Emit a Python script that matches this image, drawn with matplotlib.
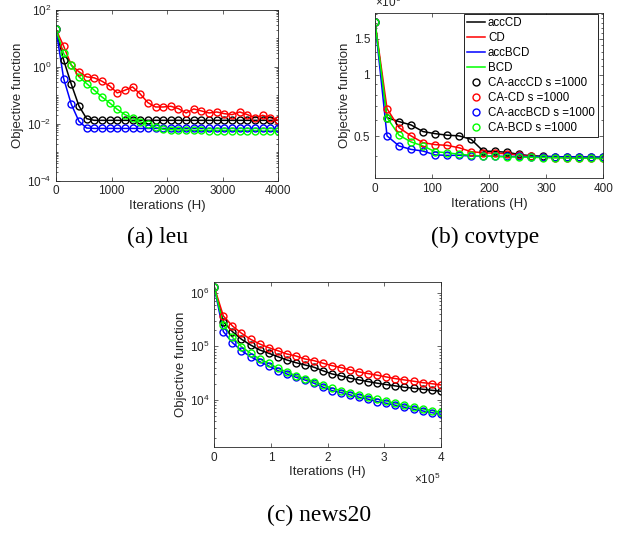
import numpy as np
import matplotlib
matplotlib.use("Agg")
import matplotlib.pyplot as plt
from matplotlib.ticker import FixedLocator, FuncFormatter, LogLocator, NullFormatter, MultipleLocator

# ---- data ----
methods = ["accCD", "CD", "accBCD", "BCD"]
ca_labels = ["CA-accCD s =1000", "CA-CD s =1000", "CA-accBCD s =1000", "CA-BCD s =1000"]
colors = ["#000000", "#ff0000", "#0000ff", "#00ff00"]

# (a) leu, 30 points over 0..4000
leu_x = np.linspace(0, 4000, 30)
leu_accCD = [20.8, 1.72, 0.244, 0.042, 0.015, 0.0131, 0.0131, 0.0131, 0.0131, 0.0131,
             0.0131, 0.0131, 0.0131, 0.0131, 0.0131, 0.0131, 0.0131, 0.0131, 0.0131, 0.0131,
             0.0131, 0.0131, 0.0131, 0.0131, 0.0131, 0.0131, 0.0131, 0.0131, 0.0131, 0.0131]
leu_CD = [20.8, 5.36, 1.15, 0.667, 0.444, 0.41, 0.312, 0.213, 0.121, 0.15,
          0.197, 0.111, 0.055, 0.0387, 0.0387, 0.041, 0.0338, 0.0238, 0.033, 0.028,
          0.0238, 0.0258, 0.0225, 0.0208, 0.0258, 0.0208, 0.0163, 0.0197, 0.0163, 0.0131]
leu_accBCD = [20.8, 0.387, 0.048, 0.0121, 0.0070, 0.0068, 0.0068, 0.0068, 0.0068, 0.0068,
              0.0068, 0.0068, 0.0068, 0.0068, 0.0068, 0.0068, 0.0068, 0.0068, 0.0068, 0.0068,
              0.0068, 0.0068, 0.0068, 0.0068, 0.0068, 0.0068, 0.0068, 0.0068, 0.0068, 0.0068]
leu_BCD = [20.8, 2.96, 1.15, 0.444, 0.258, 0.15, 0.087, 0.054, 0.032, 0.0208,
           0.0158, 0.0115, 0.0095, 0.0076, 0.0063, 0.0061, 0.0060, 0.0059, 0.0058, 0.0058,
           0.0057, 0.0057, 0.0057, 0.0056, 0.0056, 0.0056, 0.0056, 0.0055, 0.0055, 0.0055]

# (b) covtype, 20 points over 0..400 (values in 1e6)
cov_x = np.linspace(0, 400, 20)
cov_accCD = [1.82, 0.616, 0.589, 0.567, 0.526, 0.514, 0.505, 0.501, 0.482, 0.422,
             0.420, 0.416, 0.406, 0.400, 0.398, 0.396, 0.395, 0.394, 0.394, 0.393]
cov_CD = [1.82, 0.682, 0.550, 0.501, 0.464, 0.454, 0.450, 0.438, 0.419, 0.414,
          0.412, 0.409, 0.403, 0.397, 0.394, 0.392, 0.391, 0.390, 0.389, 0.388]
cov_accBCD = [1.82, 0.501, 0.447, 0.430, 0.422, 0.404, 0.402, 0.402, 0.399, 0.399,
              0.398, 0.397, 0.397, 0.396, 0.396, 0.395, 0.395, 0.395, 0.394, 0.394]
cov_BCD = [1.82, 0.616, 0.505, 0.468, 0.447, 0.419, 0.414, 0.407, 0.402, 0.399,
           0.397, 0.395, 0.394, 0.393, 0.392, 0.391, 0.390, 0.389, 0.389, 0.388]

# (c) news20, 26 points over 0..4e5, given as log10 of objective
news_x = np.linspace(0, 4e5, 26)
news_accCD = [6.1, 5.46, 5.274, 5.132, 5.026, 4.933, 4.872, 4.808, 4.747, 4.696,
              4.654, 4.611, 4.545, 4.486, 4.449, 4.406, 4.374, 4.343, 4.313, 4.287,
              4.263, 4.238, 4.220, 4.201, 4.182, 4.164]
news_CD = [6.1, 5.566, 5.38, 5.244, 5.132, 5.045, 4.976, 4.92, 4.858, 4.821,
           4.765, 4.734, 4.685, 4.641, 4.603, 4.561, 4.523, 4.492, 4.462, 4.430,
           4.399, 4.374, 4.350, 4.324, 4.305, 4.281]
news_accBCD = [6.1, 5.274, 5.069, 4.92, 4.808, 4.715, 4.635, 4.548, 4.486, 4.425,
               4.374, 4.313, 4.24, 4.175, 4.138, 4.095, 4.052, 4.015, 3.970, 3.940,
               3.903, 3.866, 3.829, 3.797, 3.765, 3.736]
news_BCD = [6.1, 5.398, 5.169, 4.994, 4.872, 4.765, 4.685, 4.592, 4.523, 4.454,
            4.399, 4.343, 4.28, 4.22, 4.175, 4.138, 4.095, 4.052, 4.015, 3.978,
            3.940, 3.903, 3.866, 3.834, 3.803, 3.773]

GRAY = "#262626"
plt.rcParams["font.family"] = ["Liberation Sans", "DejaVu Sans"]
plt.rcParams["mathtext.fontset"] = "custom"
plt.rcParams["mathtext.rm"] = "Liberation Sans"
plt.rcParams["mathtext.it"] = "Liberation Sans"


def style_axes(ax):
    for s in ax.spines.values():
        s.set_color(GRAY)
        s.set_linewidth(0.6)
    ax.tick_params(which="both", direction="in", top=True, right=True,
                   colors=GRAY, labelsize=8.5, width=0.5)
    ax.tick_params(which="major", length=3)
    ax.tick_params(which="minor", length=1.6)
    ax.set_xlabel("Iterations (H)", fontsize=9.5, color=GRAY, labelpad=2)
    ax.set_ylabel("Objective function", fontsize=9.5, color=GRAY, labelpad=2)


def draw(ax, x, series):
    for ys, c, lab in zip(series, colors, methods):
        ax.plot(x, ys, color=c, lw=1.1, label=lab)
    for ys, c, lab in zip(series, colors, ca_labels):
        ax.plot(x, ys, ls="none", marker="o", ms=5, mfc="none", mec=c, mew=1.0, label=lab)


fig = plt.figure(figsize=(6.23, 5.33), dpi=100)

# (a) leu
ax1 = fig.add_axes([56 / 623, 1 - 180.5 / 533, 222 / 623, 170.5 / 533])
draw(ax1, leu_x, [leu_accCD, leu_CD, leu_accBCD, leu_BCD])
ax1.set_yscale("log")
ax1.set_xlim(0, 4000)
ax1.set_ylim(1e-4, 1e2)
ax1.xaxis.set_major_locator(FixedLocator([0, 1000, 2000, 3000, 4000]))
ax1.yaxis.set_major_locator(FixedLocator([1e-4, 1e-2, 1e0, 1e2]))
ax1.yaxis.set_minor_locator(LogLocator(subs=np.arange(1, 10), numticks=50))
ax1.yaxis.set_minor_formatter(NullFormatter())
style_axes(ax1)

# (b) covtype
ax2 = fig.add_axes([375 / 623, 1 - 178.3 / 533, 228.3 / 623, 165.6 / 533])
draw(ax2, cov_x, [np.array(s) * 1e6 for s in [cov_accCD, cov_CD, cov_accBCD, cov_BCD]])
ax2.set_yscale("log")
ax2.set_xlim(0, 400)
ax2.set_ylim(0.31e6, 2.02e6)
ax2.xaxis.set_major_locator(FixedLocator([0, 100, 200, 300, 400]))
ax2.yaxis.set_major_locator(FixedLocator([0.5e6, 1e6, 1.5e6]))
ax2.yaxis.set_major_formatter(FuncFormatter(lambda v, p: "%g" % (v / 1e6)))
ax2.yaxis.set_minor_locator(MultipleLocator(1e5))
ax2.yaxis.set_minor_formatter(NullFormatter())
style_axes(ax2)
ax2.text(0.0, 1.015, r"$\times10^{6}$", transform=ax2.transAxes, fontsize=8.5,
         color=GRAY, ha="left", va="bottom")
leg = ax2.legend(loc="upper right", bbox_to_anchor=(1 - 5 / 228.3, 1 - 1.3 / 165.6),
                 borderaxespad=0, fontsize=8.3, frameon=True, fancybox=False,
                 edgecolor="black", framealpha=1, handlelength=1.5, handletextpad=0.3,
                 labelspacing=0.25, borderpad=0.3)
leg.get_frame().set_linewidth(0.6)

# (c) news20
ax3 = fig.add_axes([214.3 / 623, 1 - 446.7 / 533, 226.4 / 623, 165 / 533])
draw(ax3, news_x, [10 ** np.array(s) for s in [news_accCD, news_CD, news_accBCD, news_BCD]])
ax3.set_yscale("log")
ax3.set_xlim(0, 4e5)
ax3.set_ylim(1350, 1.6e6)
ax3.xaxis.set_major_locator(FixedLocator([0, 1e5, 2e5, 3e5, 4e5]))
ax3.xaxis.set_major_formatter(FuncFormatter(lambda v, p: "%g" % (v / 1e5)))
ax3.yaxis.set_major_locator(FixedLocator([1e4, 1e5, 1e6]))
ax3.yaxis.set_minor_locator(LogLocator(subs=np.arange(2, 10), numticks=50))
ax3.yaxis.set_minor_formatter(NullFormatter())
style_axes(ax3)
ax3.text(1.0, -0.2, r"$\times10^{5}$", transform=ax3.transAxes, fontsize=8.5,
         color=GRAY, ha="right", va="center")

# captions
cap = dict(fontsize=17, family=["Liberation Serif", "DejaVu Serif"], ha="center", va="center")
fig.text(158 / 623, 1 - 237 / 533, "(a) leu", **cap)
fig.text(485 / 623, 1 - 237 / 533, "(b) covtype", **cap)
fig.text(319 / 623, 1 - 515 / 533, "(c) news20", **cap)

fig.savefig("out.png", dpi=100)
